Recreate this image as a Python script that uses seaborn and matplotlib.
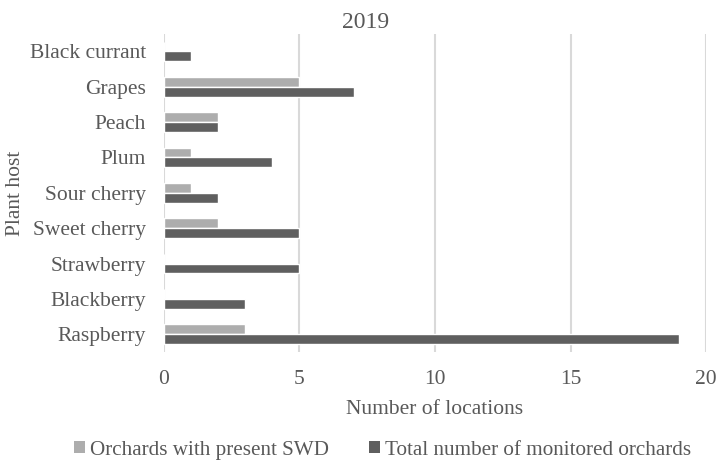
import matplotlib
matplotlib.use("Agg")
import matplotlib.pyplot as plt
import seaborn as sns
import pandas as pd
from matplotlib.patches import Patch

hosts = ["Black currant", "Grapes", "Peach", "Plum", "Sour cherry",
         "Sweet cherry", "Strawberry", "Blackberry", "Raspberry"]
swd_present = [0, 5, 2, 1, 1, 2, 0, 0, 3]
total_monitored = [1, 7, 2, 4, 2, 5, 5, 3, 19]
series_names = ["Orchards with present SWD", "Total number of monitored orchards"]
colors = ["#ADADAD", "#5F5F5F"]

df = pd.DataFrame({
    "host": hosts * 2,
    "value": swd_present + total_monitored,
    "series": [series_names[0]] * len(hosts) + [series_names[1]] * len(hosts),
})

sns.set_theme(style="white")
plt.rcParams["font.family"] = ["Liberation Serif", "DejaVu Serif"]

text_color = "#595959"
fs = 15.5

fig = plt.figure(figsize=(7.19, 4.63), dpi=100)
ax = fig.add_axes([0.228, 0.240, 0.754, 0.687])

sns.barplot(data=df, y="host", x="value", hue="series", order=hosts,
            hue_order=series_names, palette=colors, orient="h",
            width=0.56, saturation=1, ax=ax, legend=False)

ax.set_xlim(0, 20)
ax.set_xticks([0, 5, 10, 15, 20])
ax.set_ylim(len(hosts) - 0.5, -0.5)
ax.grid(axis="x", color="#D9D9D9", linewidth=1.5)
ax.set_axisbelow(True)
for s in ax.spines.values():
    s.set_visible(False)
ax.tick_params(axis="both", length=0, labelsize=fs, colors=text_color)
ax.tick_params(axis="y", pad=13)
ax.tick_params(axis="x", pad=13)
ax.set_xlabel("Number of locations", fontsize=fs, color=text_color, va="center")
ax.xaxis.set_label_coords(0.5, -0.182)
ax.set_ylabel("Plant host", fontsize=fs, color=text_color, va="center")
ax.yaxis.set_label_coords(-0.273, 0.5)

fig.text(0.509, 0.952, "2019", ha="center", va="center", fontsize=17, color=text_color)

handles = [Patch(facecolor=c, edgecolor="none") for c in colors]
fig.legend(handles, series_names, loc="center", bbox_to_anchor=(0.532, 0.028),
           ncol=2, frameon=False, fontsize=15.2, handlelength=0.5, handleheight=0.5,
           handletextpad=0.25, columnspacing=1.9, labelcolor=text_color)

fig.savefig("out.png", dpi=100)
